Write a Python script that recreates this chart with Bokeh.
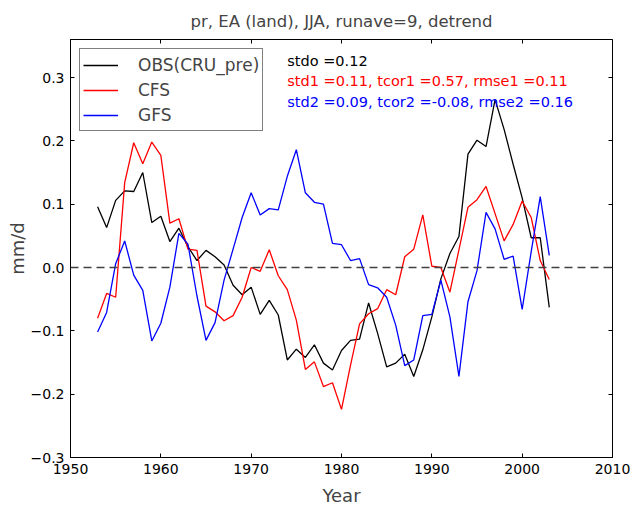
from bokeh.plotting import figure
from bokeh.models import (Legend, LegendItem, Label, Range1d, LinearAxis,
                          FixedTicker, CustomJSTickFormatter, Span, Title)
from bokeh.embed import file_html
from bokeh.resources import INLINE

FONT = 'DejaVu Sans'

years = list(range(1953, 2004))

# OBS (CRU_pre), 9-yr running mean, detrended
obs = [0.096, 0.063, 0.106, 0.121, 0.120, 0.150, 0.071, 0.081, 0.041, 0.062,
       0.033, 0.011, 0.027, 0.017, 0.004, -0.028, -0.043, -0.031, -0.074, -0.052,
       -0.075, -0.146, -0.129, -0.142, -0.122, -0.151, -0.162, -0.131, -0.115, -0.113,
       -0.056, -0.104, -0.157, -0.151, -0.137, -0.172, -0.130, -0.078, -0.018, 0.022,
       0.049, 0.179, 0.201, 0.191, 0.265, 0.218, 0.163, 0.110, 0.047, 0.047,
       -0.063]

cfs = [-0.080, -0.041, -0.047, 0.134, 0.197, 0.164, 0.198, 0.177, 0.070, 0.077,
       0.029, 0.027, -0.061, -0.070, -0.084, -0.076, -0.047, 0.000, -0.006, 0.028,
       -0.013, -0.035, -0.083, -0.161, -0.149, -0.188, -0.182, -0.224, -0.154, -0.089,
       -0.073, -0.065, -0.035, -0.043, 0.017, 0.029, 0.083, 0.002, 0.000, -0.039,
       0.028, 0.095, 0.107, 0.128, 0.085, 0.042, 0.068, 0.105, 0.079, 0.011,
       -0.019]

gfs = [-0.102, -0.071, 0.006, 0.042, -0.012, -0.036, -0.116, -0.088, -0.031, 0.054,
       0.037, -0.045, -0.115, -0.087, -0.020, 0.029, 0.079, 0.118, 0.083, 0.093,
       0.091, 0.144, 0.186, 0.118, 0.103, 0.100, 0.038, 0.036, 0.011, 0.014,
       -0.027, -0.032, -0.047, -0.091, -0.155, -0.146, -0.076, -0.074, -0.020, -0.078,
       -0.172, -0.054, -0.005, 0.087, 0.061, 0.013, 0.018, -0.066, 0.025, 0.112,
       0.019]

series_names = ['OBS(CRU_pre)', 'CFS', 'GFS']
series_colors = ['black', '#ff0000', '#0000ff']

stats_lines = ['stdo =0.12',
               'std1 =0.11, tcor1 =0.57, rmse1 =0.11',
               'std2 =0.09, tcor2 =-0.08, rmse2 =0.16']
stats_y = [0.326, 0.294, 0.261]

x_ticks = [1950, 1960, 1970, 1980, 1990, 2000, 2010]
y_ticks = [-0.3, -0.2, -0.1, 0.0, 0.1, 0.2, 0.3]

p = figure(width=632, height=508, output_backend='svg', toolbar_location=None,
           title=None,
           x_range=Range1d(1950, 2010), y_range=Range1d(-0.3, 0.36),
           min_border_left=70, min_border_right=20,
           min_border_top=39, min_border_bottom=50)

p.xgrid.grid_line_color = None
p.ygrid.grid_line_color = None
p.outline_line_color = 'black'
p.outline_line_width = 1
p.background_fill_color = 'white'

p.add_layout(Span(location=0, dimension='width', line_color='#404040',
                  line_width=1.5, line_dash='8 5'))

renderers = []
for vals, color in zip([obs, cfs, gfs], series_colors):
    renderers.append(p.line(years, vals, line_color=color, line_width=1.3))

fmt = CustomJSTickFormatter(code="return tick.toFixed(1).replace('-', '\u2212');")
blank = CustomJSTickFormatter(code="return '';")

for ax in p.xaxis:
    ax.ticker = FixedTicker(ticks=x_ticks)
    ax.axis_label = 'Year'
    ax.axis_label_standoff = 8
for ax in p.yaxis:
    ax.ticker = FixedTicker(ticks=y_ticks)
    ax.formatter = fmt
    ax.axis_label = 'mm/d'
    ax.axis_label_standoff = 0

for ax in p.xaxis + p.yaxis:
    ax.major_tick_in = 4
    ax.major_tick_out = 0
    ax.minor_tick_line_color = None
    ax.axis_line_color = 'black'
    ax.major_label_text_font = FONT
    ax.major_label_text_font_size = '14px'
    ax.major_label_text_color = 'black'
    ax.axis_label_text_font = FONT
    ax.axis_label_text_font_size = '18px'
    ax.axis_label_text_font_style = 'normal'
    ax.major_label_standoff = 6

# tick marks on top and right, as in the matplotlib frame
top = LinearAxis(ticker=FixedTicker(ticks=x_ticks), formatter=blank,
                 major_tick_in=4, major_tick_out=0, minor_tick_line_color=None,
                 major_label_standoff=0, axis_line_color=None)
right = LinearAxis(ticker=FixedTicker(ticks=y_ticks), formatter=blank,
                   major_tick_in=4, major_tick_out=0, minor_tick_line_color=None,
                   major_label_standoff=0, axis_line_color=None)
p.add_layout(top, 'above')
p.add_layout(right, 'right')

p.add_layout(Title(text='pr, EA (land), JJA, runave=9, detrend', align='center',
                   text_font=FONT, text_font_size='16.5px',
                   text_font_style='normal', standoff=17), 'above')

legend = Legend(items=[LegendItem(label=n, renderers=[r])
                       for n, r in zip(series_names, renderers)],
                location='top_left', margin=9, padding=3, spacing=0,
                label_height=25, glyph_height=20, glyph_width=35,
                label_standoff=20, label_text_font=FONT,
                label_text_font_size='17px', border_line_color='black',
                border_line_width=1, background_fill_alpha=1)
p.add_layout(legend)

for txt, y, c in zip(stats_lines, stats_y, series_colors):
    p.add_layout(Label(x=1974, y=y, text=txt, text_color=c, text_font=FONT,
                       text_font_size='14.5px', text_baseline='middle'))

open("out.html", "w").write(file_html(p, INLINE))
